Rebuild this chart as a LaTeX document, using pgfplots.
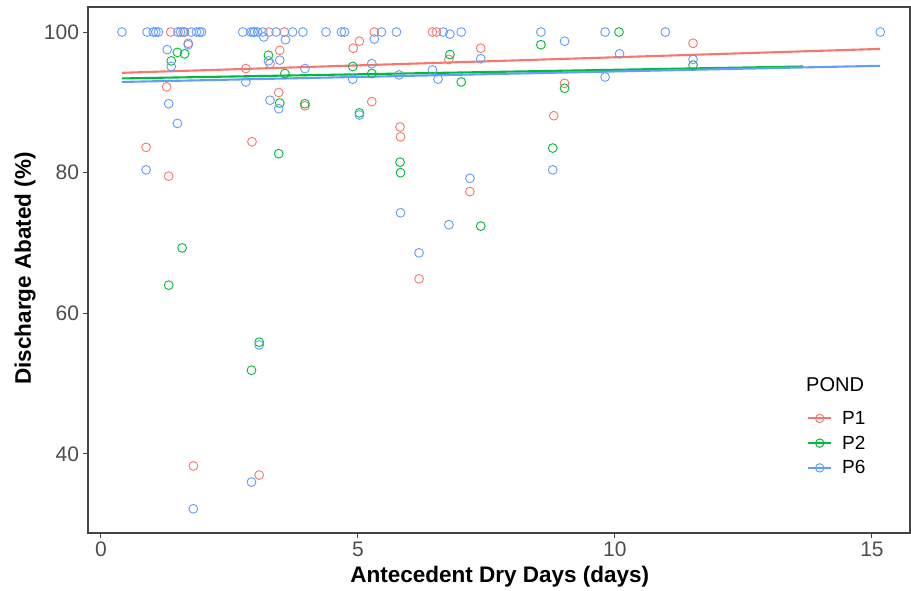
\documentclass[border=0pt]{standalone}
\usepackage{pgfplots}
\pgfplotsset{compat=1.18}
\usepackage{fontspec}
\setmainfont{Liberation Sans}

\definecolor{pone}{HTML}{F8766D}
\definecolor{ptwo}{HTML}{00BA38}
\definecolor{psix}{HTML}{619CFF}
\definecolor{ticktext}{HTML}{4D4D4D}
\definecolor{frame}{HTML}{444444}

\pgfplotsset{
  pts/.style={only marks, mark=o, mark size=4.4pt, line width=0.9pt, forget plot},
  fit/.style={line width=2.1pt},
  pondkey/.style={legend image code/.code={
      \draw[line width=2pt] (0pt,0pt) -- (23pt,0pt);
      \draw[line width=1pt] (11.5pt,0pt) circle (4.2pt);}},
}

\begin{document}
\begin{tikzpicture}
\useasboundingbox (0,0) rectangle (911pt,590pt);
\begin{axis}[
  at={(88pt,57pt)}, anchor=south west,
  scale only axis, width=822pt, height=526pt,
  xmin=-0.25, xmax=15.74, ymin=28.76, ymax=103.56,
  xtick={0,5,10,15}, ytick={40,60,80,100},
  xtick pos=bottom, ytick pos=left,
  tick align=outside, major tick length=4.5pt,
  tick style={color=frame, line width=1pt},
  axis line style={color=frame, line width=1.1pt},
  /pgf/number format/assume math mode=true,
  ticklabel style={font=\fontsize{21}{25}\selectfont, text=ticktext},
  xticklabel style={yshift=-1pt},
  yticklabel style={xshift=-1pt},
  every axis x label/.style={at={(rel axis cs:0.501,-0.0837)}, anchor=center},
  every axis y label/.style={at={(rel axis cs:-0.0766,0.503)}, anchor=center, rotate=90},
  label style={font=\bfseries\fontsize{22.5}{27}\selectfont},
  xlabel={Antecedent Dry Days (days)},
  ylabel={Discharge Abated (\%)},
  legend cell align=left,
  legend style={at={(rel axis cs:0.8747,0.232)}, anchor=north west,
    draw=none, fill=none, inner sep=0pt, row sep=10pt,
    font=\fontsize{19}{22}\selectfont,
    nodes={inner sep=0pt},
    /tikz/every odd column/.style={column sep=10pt}},
]

% P1
\addplot[pts, color=pone] coordinates {
 (1.36,100) (1.60,100) (3.27,100) (3.57,100) (5.32,100) (6.45,100) (6.53,100)
 (1.70,98.4) (1.28,92.2) (0.88,83.6) (1.32,79.5) (1.80,38.3) (3.08,37.0)
 (2.82,94.8) (3.48,97.4) (3.29,95.5) (3.46,91.4) (3.97,89.5) (2.94,84.4)
 (5.03,98.7) (4.91,97.7) (5.27,90.1) (5.82,86.5) (5.83,85.1) (6.19,64.9)
 (7.18,77.3) (7.39,97.7) (6.77,96.1) (9.02,92.7) (8.81,88.1) (11.52,98.4)
};

% P2
\addplot[pts, color=ptwo] coordinates {
 (10.08,100) (1.49,97.1) (1.63,96.9) (1.37,95.9) (1.58,69.3) (1.32,64.0)
 (3.08,55.9) (2.93,51.9) (3.26,96.7) (3.58,94.1) (3.48,89.9) (3.97,89.8)
 (3.46,82.7) (4.90,95.1) (5.27,94.1) (5.03,88.5) (5.82,81.5) (5.83,80.0)
 (7.39,72.4) (6.79,96.8) (7.01,92.9) (8.56,98.2) (11.52,95.3) (9.02,92.0)
 (8.79,83.5)
};

% P6
\addplot[pts, color=psix] coordinates {
 (0.41,100) (0.90,100) (1.02,100) (1.07,100) (1.12,100) (1.50,100) (1.55,100)
 (1.63,100) (1.76,100) (1.86,100) (1.92,100) (1.96,100) (2.76,100) (2.92,100)
 (2.96,100) (2.99,100) (3.05,100) (3.15,100) (3.41,100) (3.73,100) (3.93,100)
 (4.38,100) (4.68,100) (4.74,100) (5.46,100) (5.75,100) (6.66,100) (7.01,100)
 (8.56,100) (9.81,100) (10.98,100) (15.16,100)
 (6.79,99.7) (1.70,98.2) (1.29,97.5) (1.37,95.1) (1.32,89.8) (1.49,87.0)
 (0.88,80.4) (3.08,55.5) (2.93,36.0) (1.80,32.2) (3.17,99.3) (3.59,98.9)
 (3.26,95.9) (3.48,96.0) (3.97,94.8) (2.82,92.9) (3.29,90.3) (3.46,89.1)
 (5.32,99.0) (5.27,95.5) (4.90,93.3) (5.80,93.9) (5.03,88.2) (7.18,79.2)
 (5.83,74.3) (6.77,72.6) (6.19,68.6) (7.39,96.2) (6.45,94.6) (6.56,93.3)
 (9.02,98.7) (10.09,96.9) (11.52,96.1) (9.81,93.6) (8.79,80.4)
};

% linear fits
\addplot[fit, color=pone, pondkey] coordinates {(0.41,94.2) (15.16,97.6)};
\addlegendentry{P1}
\addplot[fit, color=ptwo, pondkey] coordinates {(0.41,93.4) (13.66,95.1)};
\addlegendentry{P2}
\addplot[fit, color=psix, pondkey] coordinates {(0.41,92.9) (15.16,95.2)};
\addlegendentry{P6}

\node[anchor=west, inner sep=0pt, font=\fontsize{20}{24}\selectfont]
  at (rel axis cs:0.8735,0.2814) {POND};
\end{axis}
\end{tikzpicture}
\end{document}
